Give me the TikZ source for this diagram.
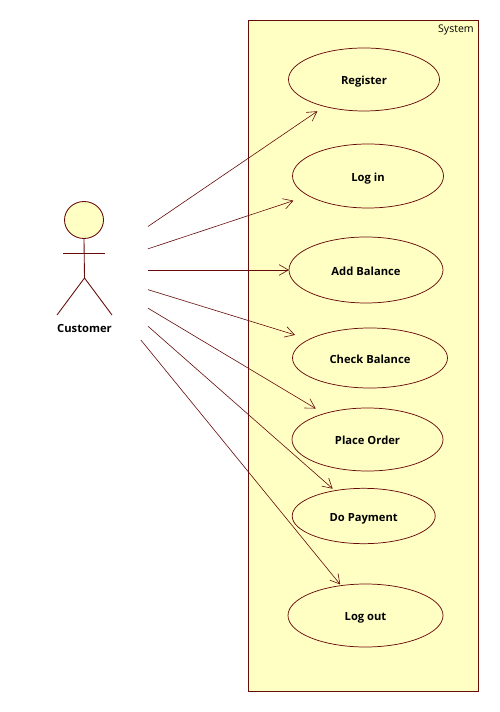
\documentclass[tikz,border=0pt]{standalone}
\usepackage{fontspec}
\setmainfont{Open Sans}
\usetikzlibrary{shapes.geometric,arrows.meta}
\definecolor{umlline}{HTML}{660A0A}
\definecolor{umlfill}{HTML}{FFFFC4}
\tikzset{
  usecase/.style={ellipse,draw=umlline,fill=umlfill,line width=0.55pt,inner sep=0pt,outer sep=0pt,font=\fontsize{8.4}{10}\selectfont\bfseries,text=black,text height=8.2pt,text depth=0pt},
  assoc/.style={draw=umlline,line width=0.45pt,-{Straight Barb[length=7pt,width=8pt,line width=0.45pt]}},
  stick/.style={draw=umlline,line width=0.65pt},
}
\begin{document}
\begin{tikzpicture}[x=0.75pt,y=-0.75pt]
\useasboundingbox (0,0) rectangle (499,712);
\fill[white] (0,0) rectangle (499,712);
\node[draw=umlline,fill=umlfill,line width=0.7pt,minimum width=172.9pt,minimum height=503.25pt,inner sep=0pt,outer sep=0pt] (system) at (363.3,355.5) {};
\node[anchor=north east,inner sep=0pt,font=\fontsize{7.9}{10}\selectfont,text=black] (systemlabel) at (474,25) {System};
% actor
\node[minimum width=96pt,minimum height=105pt,inner sep=0pt,outer sep=0pt] (actor) at (84,270) {};
\node[ellipse,draw=umlline,fill=umlfill,line width=0.65pt,minimum width=29.25pt,minimum height=27.75pt,inner sep=0pt,outer sep=0pt] (head) at (84,220) {};
\coordinate (hip) at (84.5,278);
\coordinate (armL) at (63,253);
\coordinate (armR) at (105,253);
\coordinate (legL) at (57,315);
\coordinate (legR) at (112,315);
\draw[stick] (head.south) -- (hip);
\draw[stick] (armL) -- (armR);
\draw[stick] (legL) -- (hip) -- (legR);
\node[font=\fontsize{8.4}{10}\selectfont\bfseries,text=black] (customer) at (84.5,328) {Customer};
% use cases
\node[usecase,minimum width=113.25pt,minimum height=47.25pt] (register) at (364,79.5) {Register};
\node[usecase,minimum width=113.25pt,minimum height=48pt] (login) at (368,176) {Log in};
\node[usecase,minimum width=115.5pt,minimum height=49.5pt] (add) at (366,270) {Add Balance};
\node[usecase,minimum width=116.25pt,minimum height=45pt] (check) at (370,358) {Check Balance};
\node[usecase,minimum width=113.25pt,minimum height=47.25pt] (place) at (367.5,439.5) {Place Order};
\node[usecase,minimum width=107.25pt,minimum height=41.5pt] (pay) at (363.7,516) {Do Payment};
\node[usecase,minimum width=116.25pt,minimum height=47.25pt] (logout) at (365.5,615.5) {Log out};
% associations
\draw[assoc,shorten >=6.5pt] (actor) -- (register);
\draw[assoc,shorten >=11.9pt] (actor) -- (login);
\draw[assoc] (actor) -- (add);
\draw[assoc,shorten >=11.25pt] (actor) -- (check);
\draw[assoc,shorten >=7.5pt] (actor) -- (place);
\draw[assoc,shorten >=2.25pt] (actor) -- (pay);
\draw[assoc,shorten >=1.1pt] (actor) -- (logout);
\end{tikzpicture}
\end{document}
